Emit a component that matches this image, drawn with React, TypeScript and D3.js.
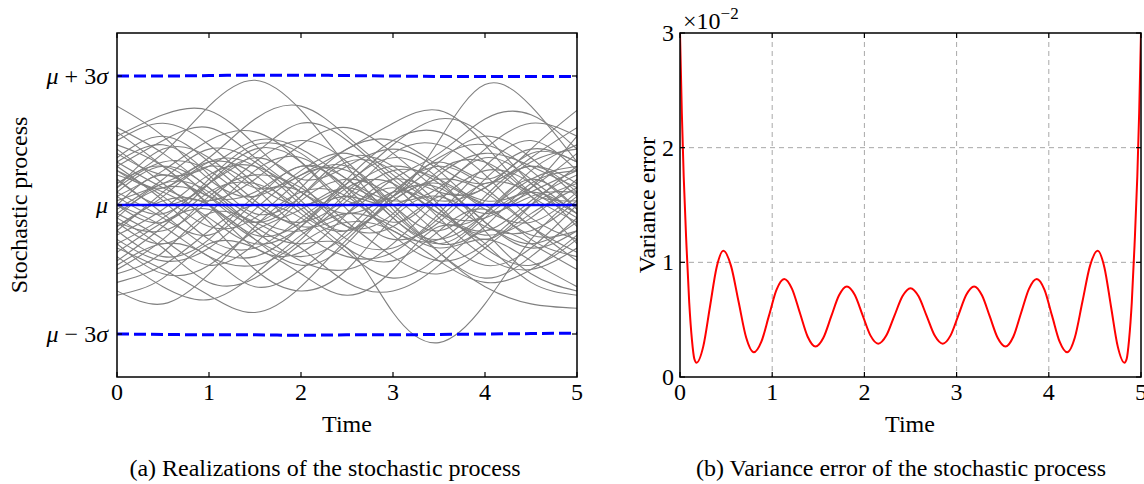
import React from "react";
import * as d3 from "d3";

// time grid of the sampled realizations (sigma units)
const timeGrid = [0, 0.5, 1, 1.5, 2, 2.5, 3, 3.5, 4, 4.5, 5];

const realizationsA = [
  [0.5, 1.2, 2.3, 2.9, 2.2, 0.9, -0.3, -0.8, -0.2, 0.6, 0.9],
  [-0.4, -0.9, -0.2, 0.8, 1.1, 0.4, 0.2, 1.5, 2.8, 2.3, 1.0],
  [0.3, 0.9, 0.4, -0.5, -0.9, -1.0, -2.5, -3.2, -2.3, -0.8, 0.2],
  [2.3, 1.6, 0.6, 0.2, 0.8, 1.2, 0.5, -0.4, -0.2, 0.8, 1.4],
  [-1.0, -1.5, -2.1, -2.5, -1.9, -0.8, 0.1, 0.6, 0.3, -0.5, -1.1],
  [-2.0, -2.3, -1.6, -0.5, 0.3, 0.2, -0.7, -1.3, -0.9, 0.0, 0.5],
  [0.8, 0.2, -0.5, -0.3, 0.6, 0.9, 0.0, -1.1, -1.9, -2.3, -2.4],
  [-0.6, 0.3, 1.0, 0.7, -0.2, -0.6, 0.2, 1.0, 0.6, 1.3, 2.2],
  [1.5, 1.9, 1.4, 0.5, 0.0, 0.5, 1.4, 2.0, 1.6, 0.5, -0.2],
  [0.0, -0.5, -1.2, -1.4, -0.8, 0.3, 0.9, 0.5, -0.4, -1.0, -0.6],
  [1.0, 0.4, 0.1, 0.6, 1.4, 1.8, 1.2, 0.3, -0.5, -0.6, 0.1],
];
const realizationsB = [
  [-1.5, -0.8, 0.2, 0.7, 0.4, -0.4, -1.2, -1.6, -1.0, -0.2, 0.4],
  [0.2, 0.8, 1.5, 1.7, 1.0, -0.1, -0.8, -0.4, 0.6, 1.3, 1.0],
  [-0.3, -1.0, -1.8, -1.7, -0.9, -0.4, -0.6, -1.3, -1.8, -1.5, -0.7],
  [1.8, 1.2, 0.4, -0.3, -0.6, 0.1, 0.8, 0.6, 0.1, 0.4, 1.2],
  [-0.9, -0.3, 0.5, 1.2, 1.9, 1.5, 0.6, -0.2, -0.7, -0.3, 0.6],
  [0.6, -0.2, -1.0, -1.2, -0.5, 0.6, 1.5, 1.7, 1.0, 0.2, -0.4],
  [-1.8, -1.4, -0.6, 0.0, -0.3, -1.1, -1.7, -1.2, -0.3, 0.3, -0.2],
  [0.9, 1.5, 1.8, 1.1, 0.3, -0.2, 0.3, 1.1, 1.4, 0.8, -0.1],
  [-0.2, 0.4, 0.2, -0.6, -1.3, -1.5, -0.9, 0.1, 0.8, 0.5, -0.5],
  [1.2, 0.7, 0.9, 1.5, 1.3, 0.6, 0.1, 0.4, 1.3, 1.9, 1.6],
  [-1.2, -1.9, -2.2, -1.6, -0.7, -0.2, -0.5, -1.0, -0.8, -1.3, -1.9],
];
const realizationsC = [
  [0.4, 1.0, 0.8, 0.0, -0.4, 0.2, 1.2, 1.4, 0.7, -0.3, -0.8],
  [-0.7, -0.1, 0.7, 0.9, 0.3, 0.0, 0.4, -0.3, -1.2, -1.5, -1.0],
  [1.4, 0.9, 0.0, -0.8, -1.2, -0.7, 0.3, 0.9, 0.4, -0.5, -1.3],
  [-0.4, -0.6, 0.1, 1.0, 1.5, 1.0, -0.1, -0.9, -0.5, 0.5, 0.8],
  [0.1, 0.5, 1.1, 2.0, 2.3, 1.6, 0.7, 0.1, 0.4, 0.9, 0.5],
  [-1.6, -1.1, -0.2, -0.4, -1.0, -1.8, -2.0, -1.4, -0.6, -0.9, -1.5],
  [0.7, 0.3, -0.3, -0.9, -0.5, 0.4, 0.5, -0.2, -0.3, 0.4, 1.6],
  [-0.1, 0.6, 1.3, 1.0, 0.1, -0.8, -1.0, -0.3, 0.5, 0.3, -0.3],
  [1.1, 1.6, 1.0, 0.1, -0.5, -0.2, 0.6, 1.2, 2.0, 2.1, 1.3],
  [-0.8, -1.3, -1.0, -0.1, 0.7, 0.8, 0.0, -0.6, 0.2, 0.9, 0.3],
  [0.3, -0.3, -0.7, 0.1, 0.9, 0.4, -0.4, 0.3, 1.1, 0.6, -0.2],
];
const realizationsD = [
  [-2.1, -1.7, -0.9, -1.0, -1.6, -2.1, -1.5, -0.5, -0.9, -1.8, -2.1],
  [1.6, 2.1, 2.2, 1.4, 0.6, 0.9, 1.3, 0.8, 0.0, 0.3, 0.8],
  [0.0, -0.4, 0.3, 0.5, -0.1, -1.0, -1.3, -0.6, -0.1, -0.8, -1.2],
  [-0.5, 0.1, 0.0, -0.7, -0.4, 0.5, 1.1, 0.6, -0.6, -1.6, -2.0],
  [0.9, 0.1, -0.8, -1.0, -0.3, 0.2, 0.0, 0.7, 1.2, 0.9, 0.4],
  [-1.3, -0.5, 0.5, 1.3, 1.0, 0.1, 0.2, 1.0, 1.6, 1.1, 0.2],
  [0.4, 1.3, 1.1, 0.4, 0.7, 1.3, 1.9, 2.2, 1.4, 0.3, 0.1],
  [-0.9, -1.6, -1.4, -0.6, -0.1, 0.4, -0.2, -1.1, -1.7, -1.2, -0.3],
  [0.6, 0.0, 0.5, 1.1, 0.5, -0.5, -0.5, 0.2, 0.0, -0.7, -0.6],
  [-0.3, 0.5, 0.3, -0.4, 0.2, 1.1, 0.9, 0.0, -0.8, 0.0, 0.9],
  [1.3, 0.5, -0.4, -1.5, -2.0, -1.5, -0.3, 0.2, -0.2, 0.2, 0.3],
];
const realizationsE = [
  [0.2, -0.2, 0.6, 1.4, 1.2, 0.3, -0.6, -0.8, 0.1, 1.0, 1.3],
  [-0.6, -1.2, -0.8, 0.2, 0.3, -0.5, -0.2, 0.8, 1.0, 0.2, -0.9],
  [1.0, 1.4, 0.7, -0.2, 0.2, 1.0, 0.8, -0.1, -0.6, 0.1, 0.7],
  [-1.1, -0.4, -0.1, -0.8, -1.4, -0.9, 0.2, 0.4, -0.4, -0.9, -0.4],
  [0.5, 0.9, 0.2, -0.4, 0.4, 1.3, 1.5, 0.9, 0.5, 1.1, 1.8],
  [-0.2, -0.8, -1.4, -0.9, 0.1, 0.6, 0.2, -0.7, -1.4, -1.0, 0.0],
  [0.8, 0.4, 1.0, 0.9, 0.0, -0.6, 0.1, 0.5, -0.1, -0.4, 0.3],
  [-0.5, 0.2, 0.9, 0.4, -0.6, -1.2, -1.1, -0.2, 0.9, 1.5, 0.8],
  [1.7, 0.9, 0.2, 0.3, 0.9, 0.6, -0.3, -0.9, -0.2, 0.6, -0.1],
  [0.0, 0.7, 0.0, -1.0, -1.1, -0.2, 0.6, 0.3, 0.4, 1.2, 1.0],
  [-1.4, -0.9, -1.2, -1.9, -1.5, -0.6, 0.3, -0.1, -1.0, -1.4, -0.8],
];

const meanLine = [0, 0, 0, 0, 0, 0, 0, 0, 0, 0, 0];
const upperBound = [3.0, 3.0, 3.01, 3.02, 3.02, 3.01, 3.0, 2.99, 2.99, 2.99, 2.99];
const lowerBound = [-3.0, -3.01, -3.02, -3.02, -3.03, -3.02, -3.02, -3.01, -3.0, -2.99, -2.98];

const yTickValues = [3, 0, -3];
const timeTicks = [0, 1, 2, 3, 4, 5];

// variance error (x 1e-2)
const errTimes = [
  0, 0.02, 0.04, 0.07, 0.1, 0.13, 0.155, 0.18, 0.2525, 0.325, 0.3975, 0.47,
  0.5525, 0.635, 0.7175, 0.8, 0.8825, 0.965, 1.0475, 1.13, 1.215, 1.3, 1.385,
  1.47, 1.555, 1.64, 1.725, 1.81, 1.895, 1.98, 2.065, 2.15, 2.2375, 2.325,
  2.4125, 2.5, 2.5875, 2.675, 2.7625, 2.85, 2.935, 3.02, 3.105, 3.19, 3.275,
  3.36, 3.445, 3.53, 3.615, 3.7, 3.785, 3.87, 3.9525, 4.035, 4.1175, 4.2,
  4.2825, 4.365, 4.4475, 4.53, 4.6025, 4.675, 4.7475, 4.82, 4.845, 4.87, 4.9,
  4.93, 4.96, 4.98, 5,
];
const errValues = [
  3.0, 2.3, 1.75, 1.15, 0.65, 0.32, 0.16, 0.125, 0.267, 0.613, 0.958, 1.1,
  0.971, 0.658, 0.344, 0.215, 0.308, 0.535, 0.762, 0.855, 0.769, 0.56, 0.351,
  0.265, 0.342, 0.528, 0.713, 0.79, 0.717, 0.54, 0.363, 0.29, 0.361, 0.533,
  0.704, 0.775, 0.704, 0.533, 0.361, 0.29, 0.363, 0.54, 0.717, 0.79, 0.713,
  0.528, 0.342, 0.265, 0.351, 0.56, 0.769, 0.855, 0.762, 0.535, 0.308, 0.215,
  0.344, 0.658, 0.971, 1.1, 0.958, 0.613, 0.267, 0.125, 0.16, 0.32, 0.65,
  1.15, 1.75, 2.3, 3.0,
];
const errTicks = [0, 1, 2, 3];

const FONT = "'Liberation Serif', 'Times New Roman', serif";
const FS = 24;
const TL = 5;

export default function App() {
  const top = 33, bottom = 377;
  const xL = d3.scaleLinear().domain([0, 5]).range([117, 577]);
  const yL = d3.scaleLinear().domain([-4, 4]).range([bottom, top]);
  const xR = d3.scaleLinear().domain([0, 5]).range([680, 1141]);
  const yR = d3.scaleLinear().domain([0, 3]).range([bottom, top]);

  const realLine = d3
    .line<number>()
    .x((_, i) => xL(timeGrid[i]))
    .y((d) => yL(d))
    .curve(d3.curveNatural);
  const boundLine = d3
    .line<number>()
    .x((_, i) => xL(timeGrid[i]))
    .y((d) => yL(d))
    .curve(d3.curveMonotoneX);
  const errLine = d3
    .line<number>()
    .x((_, i) => xR(errTimes[i]))
    .y((d) => yR(d))
    .curve(d3.curveMonotoneX);

  const all = [
    ...realizationsA,
    ...realizationsB,
    ...realizationsC,
    ...realizationsD,
    ...realizationsE,
  ];

  const yLabel = (v: number) => {
    if (v === 0) return <tspan fontStyle="italic">μ</tspan>;
    return (
      <>
        <tspan fontStyle="italic">μ</tspan>
        <tspan>{v > 0 ? " + 3" : " − 3"}</tspan>
        <tspan fontStyle="italic">σ</tspan>
      </>
    );
  };

  return (
    <div style={{ position: "absolute", left: 0, top: 0 }}>
      <svg width={1144} height={484} style={{ display: "block", fontFamily: FONT }}>
        <defs>
          <clipPath id="clipL">
            <rect x={117} y={top} width={460} height={bottom - top} />
          </clipPath>
          <clipPath id="clipR">
            <rect x={680} y={top - 2} width={461} height={bottom - top + 2} />
          </clipPath>
        </defs>

        {/* left panel */}
        <g clipPath="url(#clipL)">
          {all.map((r, i) => (
            <path key={i} d={realLine(r) || ""} fill="none" stroke="#808080" strokeWidth={1.1} />
          ))}
          <path d={boundLine(upperBound) || ""} fill="none" stroke="#0000ff" strokeWidth={3} strokeDasharray="12,5" />
          <path d={boundLine(lowerBound) || ""} fill="none" stroke="#0000ff" strokeWidth={3} strokeDasharray="12,5" />
          <path d={boundLine(meanLine) || ""} fill="none" stroke="#0000ff" strokeWidth={2.5} />
        </g>
        <rect x={117} y={top} width={460} height={bottom - top} fill="none" stroke="#000" strokeWidth={1.5} />
        {timeTicks.map((t) => (
          <g key={t}>
            <line x1={xL(t)} x2={xL(t)} y1={bottom} y2={bottom - TL} stroke="#000" strokeWidth={1.2} />
            <line x1={xL(t)} x2={xL(t)} y1={top} y2={top + TL} stroke="#000" strokeWidth={1.2} />
            <text x={xL(t)} y={bottom + 23} textAnchor="middle" fontSize={FS}>{t}</text>
          </g>
        ))}
        {yTickValues.map((v) => (
          <g key={v}>
            <line x1={117} x2={117 + TL} y1={yL(v)} y2={yL(v)} stroke="#000" strokeWidth={1.2} />
            <line x1={577} x2={577 - TL} y1={yL(v)} y2={yL(v)} stroke="#000" strokeWidth={1.2} />
            <text x={108} y={yL(v) + 8} textAnchor="end" fontSize={FS}>{yLabel(v)}</text>
          </g>
        ))}
        <text x={347} y={432} textAnchor="middle" fontSize={FS}>Time</text>
        <text transform="translate(27,205) rotate(-90)" textAnchor="middle" fontSize={FS}>Stochastic process</text>
        <text x={325} y={476} textAnchor="middle" fontSize={FS}>(a) Realizations of the stochastic process</text>

        {/* right panel */}
        {timeTicks.slice(1, 5).map((t) => (
          <line key={"gx" + t} x1={xR(t)} x2={xR(t)} y1={top} y2={bottom} stroke="#a8a8a8" strokeWidth={1} strokeDasharray="5,4" />
        ))}
        {errTicks.slice(1, 3).map((v) => (
          <line key={"gy" + v} x1={680} x2={1141} y1={yR(v)} y2={yR(v)} stroke="#a8a8a8" strokeWidth={1} strokeDasharray="5,4" />
        ))}
        <g clipPath="url(#clipR)">
          <path d={errLine(errValues) || ""} fill="none" stroke="#ff0000" strokeWidth={2} />
        </g>
        <rect x={680} y={top} width={461} height={bottom - top} fill="none" stroke="#000" strokeWidth={1.5} />
        {timeTicks.map((t) => (
          <g key={"r" + t}>
            <line x1={xR(t)} x2={xR(t)} y1={bottom} y2={bottom - TL} stroke="#000" strokeWidth={1.2} />
            <line x1={xR(t)} x2={xR(t)} y1={top} y2={top + TL} stroke="#000" strokeWidth={1.2} />
            <text x={xR(t)} y={bottom + 23} textAnchor="middle" fontSize={FS}>{t}</text>
          </g>
        ))}
        {errTicks.map((v) => (
          <g key={"ry" + v}>
            <line x1={680} x2={680 + TL} y1={yR(v)} y2={yR(v)} stroke="#000" strokeWidth={1.2} />
            <line x1={1141} x2={1141 - TL} y1={yR(v)} y2={yR(v)} stroke="#000" strokeWidth={1.2} />
            <text x={674} y={yR(v) + 8} textAnchor="end" fontSize={FS}>{v}</text>
          </g>
        ))}
        <text x={683} y={29} fontSize={FS}>
          ×10<tspan dy={-10} fontSize={17}>−2</tspan>
        </text>
        <text x={910} y={432} textAnchor="middle" fontSize={FS}>Time</text>
        <text transform="translate(655,205) rotate(-90)" textAnchor="middle" fontSize={FS}>Variance error</text>
        <text x={901} y={476} textAnchor="middle" fontSize={FS}>(b) Variance error of the stochastic process</text>
      </svg>
    </div>
  );
}
